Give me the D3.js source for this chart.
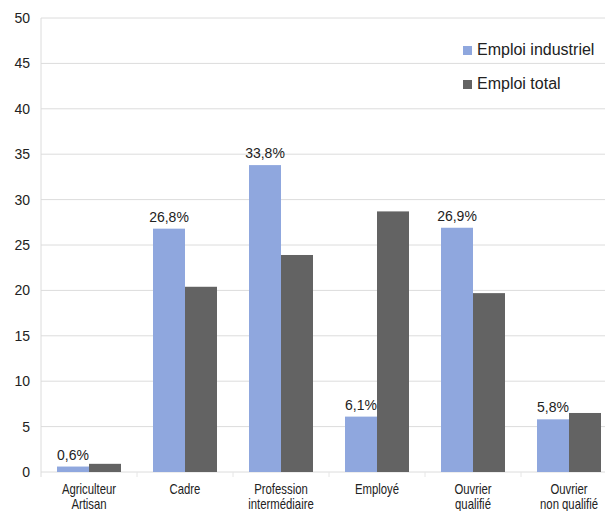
<!DOCTYPE html>
<html>
<head>
<meta charset="utf-8">
<script src="https://cdn.jsdelivr.net/npm/d3@7"></script>
<style>
  body { margin: 0; background: #fff; overflow: hidden; }
  text { font-family: "Liberation Sans", Arial, sans-serif; fill: #222; }
</style>
</head>
<body>
<script>
// données
const categories = [["Agriculteur", "Artisan"], ["Cadre"], ["Profession", "intermédiaire"], ["Employé"], ["Ouvrier", "qualifié"], ["Ouvrier", "non qualifié"]];
const emploiIndustriel = [0.6, 26.8, 33.8, 6.1, 26.9, 5.8];
const emploiTotal = [0.9, 20.4, 23.9, 28.7, 19.7, 6.5];
const seriesNames = ["Emploi industriel", "Emploi total"];
const yTicks = [0, 5, 10, 15, 20, 25, 30, 35, 40, 45, 50];

const width = 605, height = 511;
const margin = { top: 18, bottom: 39, left: 41 };
// la zone du graphique dépasse un peu à droite de la fenêtre
const plotRight = 617;

const svg = d3.select("body").append("svg")
    .attr("width", width)
    .attr("height", height);

const x = d3.scaleBand()
    .domain(d3.range(categories.length))
    .range([margin.left, plotRight]);

const x1 = d3.scaleBand()
    .domain([0, 1])
    .range([0, x.bandwidth()])
    .paddingOuter(0.5);

const y = d3.scaleLinear()
    .domain([0, 50])
    .range([height - margin.bottom, margin.top]);

// grille
svg.append("g")
    .selectAll("line")
    .data(yTicks)
    .enter()
    .append("line")
    .attr("x1", margin.left).attr("x2", plotRight)
    .attr("y1", d => y(d)).attr("y2", d => y(d))
    .attr("stroke", "#dcdcdc").attr("stroke-width", 1);

svg.append("line")
    .attr("x1", margin.left).attr("x2", margin.left)
    .attr("y1", y(50)).attr("y2", y(0) + 5)
    .attr("stroke", "#dcdcdc");

// petits traits entre catégories
svg.append("g")
    .selectAll("line")
    .data(d3.range(1, categories.length))
    .enter()
    .append("line")
    .attr("x1", d => x(d)).attr("x2", d => x(d))
    .attr("y1", y(0)).attr("y2", y(0) + 5)
    .attr("stroke", "#e6e6e6");

// axe y
svg.append("g")
    .selectAll("text")
    .data(yTicks)
    .enter()
    .append("text")
    .attr("x", 30)
    .attr("y", d => y(d) + 5)
    .attr("text-anchor", "end")
    .style("font-size", "14px")
    .text(d => d);

// barres
const colors = ["#8fa7de", "#636363"];
const series = [emploiIndustriel, emploiTotal];

series.forEach((values, s) => {
    svg.append("g")
        .selectAll("rect")
        .data(values)
        .enter()
        .append("rect")
        .attr("x", (d, i) => x(i) + x1(s))
        .attr("y", d => y(d))
        .attr("width", x1.bandwidth())
        .attr("height", d => y(0) - y(d))
        .attr("fill", colors[s]);
});

// étiquettes de valeurs
svg.append("g")
    .selectAll("text")
    .data(emploiIndustriel)
    .enter()
    .append("text")
    .attr("x", (d, i) => x(i) + x1(0) + x1.bandwidth() / 2)
    .attr("y", d => y(d) - 7)
    .attr("text-anchor", "middle")
    .style("font-size", "14px")
    .text(d => String(d).replace(".", ",") + "%");

// catégories (police étroite simulée)
const cat = svg.append("g")
    .selectAll("text")
    .data(categories)
    .enter()
    .append("text")
    .attr("transform", (d, i) => "translate(" + (x(i) + x.bandwidth() / 2) + ",494) scale(0.81,1)")
    .attr("text-anchor", "middle")
    .style("font-size", "14px");

cat.selectAll("tspan")
    .data(d => d)
    .enter()
    .append("tspan")
    .attr("x", 0)
    .attr("dy", (d, i) => i === 0 ? 0 : 15)
    .text(d => d);

// légende
const legend = svg.append("g")
    .selectAll("g")
    .data(seriesNames)
    .enter()
    .append("g")
    .attr("transform", (d, i) => "translate(463," + (54 + i * 34) + ")");

legend.append("rect")
    .attr("x", 0).attr("y", -8)
    .attr("width", 9).attr("height", 9)
    .attr("fill", (d, i) => colors[i]);

legend.append("text")
    .attr("x", 14).attr("y", 1)
    .style("font-size", "16px")
    .text(d => d);
</script>
</body>
</html>
